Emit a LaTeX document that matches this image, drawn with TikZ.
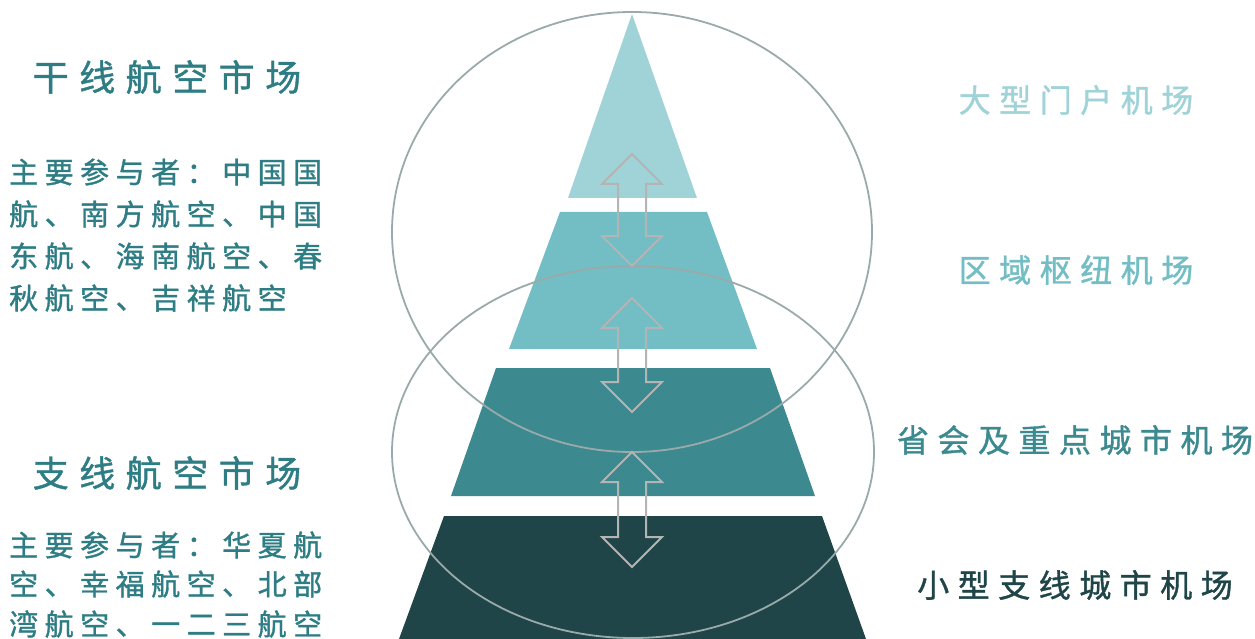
\documentclass[tikz,border=0pt]{standalone}
\usepackage{fontspec}
\setmainfont{Noto Sans CJK SC}[FakeBold=1.2]
\definecolor{cA}{HTML}{A0D3D7}
\definecolor{cB}{HTML}{73BEC4}
\definecolor{cC}{HTML}{3C8A90}
\definecolor{cD}{HTML}{1F4548}
\definecolor{txt}{HTML}{2E7D84}
\definecolor{ringc}{HTML}{9AAAAB}
\definecolor{arrc}{HTML}{B4B4B4}
\newdimen\chgap
\def\spc#1{\spcA#1\relax\relax}
\def\spcA#1#2{#1\ifx#2\relax\else\hspace{\chgap}\expandafter\spcA\expandafter#2\fi}
\newcommand\dblarr[2]{%
  \draw[arrline] (632,#1) -- (602,#1+30) -- (618,#1+30) -- (618,#2-30) -- (602,#2-30)
    -- (632,#2) -- (662,#2-30) -- (646,#2-30) -- (646,#1+30) -- (662,#1+30) -- cycle;}
\tikzset{
  ring/.style={draw=ringc, line width=1.8pt},
  arrline/.style={draw=arrc, line width=2pt, line join=miter},
  titletext/.style={inner sep=0pt, text=txt, font=\fontsize{36}{40}\selectfont},
  bodytext/.style={inner sep=0pt, anchor=west, text=txt, font=\fontsize{29}{32}\selectfont},
  righttext/.style={inner sep=0pt, font=\fontsize{32}{36}\selectfont},
}
\begin{document}
\begin{tikzpicture}[x=1pt,y=-1pt]
\useasboundingbox (0,0) rectangle (1255,639);
% pyramid layers
\fill[cA] (632,14) -- (697,198) -- (568,198) -- cycle;
\fill[cB] (560,212) -- (707,212) -- (757,349) -- (509,349) -- cycle;
\fill[cC] (496,368) -- (770,368) -- (815,496) -- (451,496) -- cycle;
\fill[cD] (444,516) -- (822,516) -- (866,639) -- (399,639) -- cycle;
% rings
\draw[ring] (632,232) ellipse [x radius=240, y radius=220];
\draw[ring] (633,452) ellipse [x radius=241, y radius=186];
% arrows
\dblarr{154}{266}
\dblarr{298}{412}
\dblarr{452}{567}
% left texts
\chgap=10.5pt
\node[titletext] (t1) at (167,77) {\spc{干线航空市场}};
\node[titletext] (t2) at (167,473) {\spc{支线航空市场}};
\chgap=6.5pt
\node[bodytext] (b1) at (9,172) {\spc{主要参与者：中国国}};
\node[bodytext] (b2) at (9,214) {\spc{航、南方航空、中国}};
\node[bodytext] (b3) at (9,256) {\spc{东航、海南航空、春}};
\node[bodytext] (b4) at (9,298) {\spc{秋航空、吉祥航空}};
\node[bodytext] (c1) at (9,545) {\spc{主要参与者：华夏航}};
\node[bodytext] (c2) at (9,584) {\spc{空、幸福航空、北部}};
\node[bodytext] (c3) at (9,624) {\spc{湾航空、一二三航空}};
% right labels
\chgap=8.5pt
\node[righttext, text=cA] (r1) at (1076,100) {\spc{大型门户机场}};
\node[righttext, text=cB] (r2) at (1076,270) {\spc{区域枢纽机场}};
\node[righttext, text=cC] (r3) at (1075,440) {\spc{省会及重点城市机场}};
\node[righttext, text=cD] (r4) at (1075,585) {\spc{小型支线城市机场}};
\end{tikzpicture}
\end{document}
